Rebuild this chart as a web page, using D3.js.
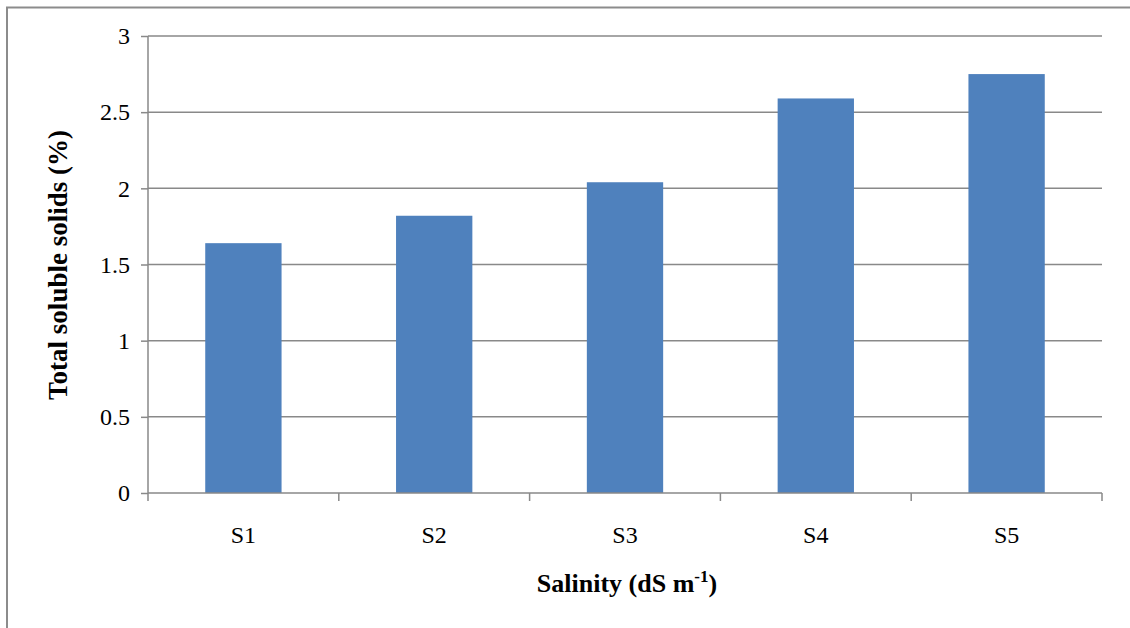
<!DOCTYPE html>
<html>
<head>
<meta charset="utf-8">
<script src="https://cdn.jsdelivr.net/npm/d3@7"></script>
<style>
  html, body { margin: 0; padding: 0; background: #fff; }
  svg { display: block; }
  svg text { font-family: "Liberation Serif", "DejaVu Serif", serif; }
</style>
</head>
<body>
<svg id="chart" width="1130" height="628"></svg>
<script>
// Total soluble solids per salinity level
const categories = ["S1", "S2", "S3", "S4", "S5"];
const tssValues = [1.64, 1.82, 2.04, 2.59, 2.75];
const yTicks = [0, 0.5, 1, 1.5, 2, 2.5, 3];

const svg = d3.select("#chart");
const W = 1130, H = 628;
const plot = { left: 148, right: 1102, top: 36, bottom: 493 };
const gridColor = "#898989";
const fs = 24;
const titleFs = 26;

// outer frame (extends past the right and bottom edges)
svg.append("rect")
  .attr("x", 7).attr("y", 7.5)
  .attr("width", W + 20).attr("height", H + 20)
  .attr("fill", "none")
  .attr("stroke", "#8c8c8c")
  .attr("stroke-width", 2);

const x = d3.scaleBand()
  .domain(categories)
  .range([plot.left, plot.right])
  .paddingInner(0.6)
  .paddingOuter(0.3);

const y = d3.scaleLinear()
  .domain([0, 3])
  .range([plot.bottom, plot.top]);

// horizontal gridlines
svg.append("g")
  .selectAll("line")
  .data(yTicks.filter(t => t > 0))
  .join("line")
  .attr("x1", plot.left).attr("x2", plot.right)
  .attr("y1", d => y(d)).attr("y2", d => y(d))
  .attr("stroke", gridColor)
  .attr("stroke-width", 1.5);

// bars
svg.append("g")
  .selectAll("rect")
  .data(categories.map((c, i) => ({ c, v: tssValues[i] })))
  .join("rect")
  .attr("x", d => x(d.c))
  .attr("width", x.bandwidth())
  .attr("y", d => y(d.v))
  .attr("height", d => y(0) - y(d.v))
  .attr("fill", "#4F81BD");

// y axis
const yAxis = svg.append("g")
  .attr("transform", `translate(${plot.left},0)`)
  .call(d3.axisLeft(y).tickValues(yTicks).tickSize(7).tickPadding(11)
    .tickFormat(d3.format("")));
yAxis.attr("font-family", null).attr("font-size", null);
yAxis.select(".domain").attr("stroke", gridColor).attr("stroke-width", 1.5)
  .attr("d", `M0,${plot.top}V${plot.bottom}`);
yAxis.selectAll(".tick line").attr("stroke", gridColor).attr("stroke-width", 1.5);
yAxis.selectAll(".tick text")
  .attr("font-size", fs).attr("fill", "#000");

// x axis with boundary ticks between categories
const xAxisG = svg.append("g");
xAxisG.append("line")
  .attr("x1", plot.left).attr("x2", plot.right)
  .attr("y1", plot.bottom).attr("y2", plot.bottom)
  .attr("stroke", gridColor).attr("stroke-width", 1.5);
const boundaries = d3.range(categories.length + 1).map(i => plot.left + i * (plot.right - plot.left) / categories.length);
xAxisG.selectAll("line.tk")
  .data(boundaries)
  .join("line")
  .attr("class", "tk")
  .attr("x1", d => d).attr("x2", d => d)
  .attr("y1", plot.bottom).attr("y2", plot.bottom + 8)
  .attr("stroke", gridColor).attr("stroke-width", 1.5);
xAxisG.selectAll("text")
  .data(categories)
  .join("text")
  .attr("x", d => x(d) + x.bandwidth() / 2)
  .attr("y", 543)
  .attr("text-anchor", "middle")
  .attr("font-size", fs).attr("fill", "#000")
  .text(d => d);

// axis titles
const xt = svg.append("text")
  .attr("x", 627).attr("y", 592)
  .attr("text-anchor", "middle")
  .attr("font-size", titleFs).attr("font-weight", "bold");
xt.append("tspan").text("Salinity (dS m");
xt.append("tspan").attr("font-size", 17).attr("dy", -10).text("-1");
xt.append("tspan").attr("dy", 10).text(")");

svg.append("text")
  .attr("transform", `translate(67,${(132 + 398) / 2}) rotate(-90)`)
  .attr("text-anchor", "middle")
  .attr("font-size", 27).attr("font-weight", "bold")
  .text("Total soluble solids (%)");
</script>
</body>
</html>
